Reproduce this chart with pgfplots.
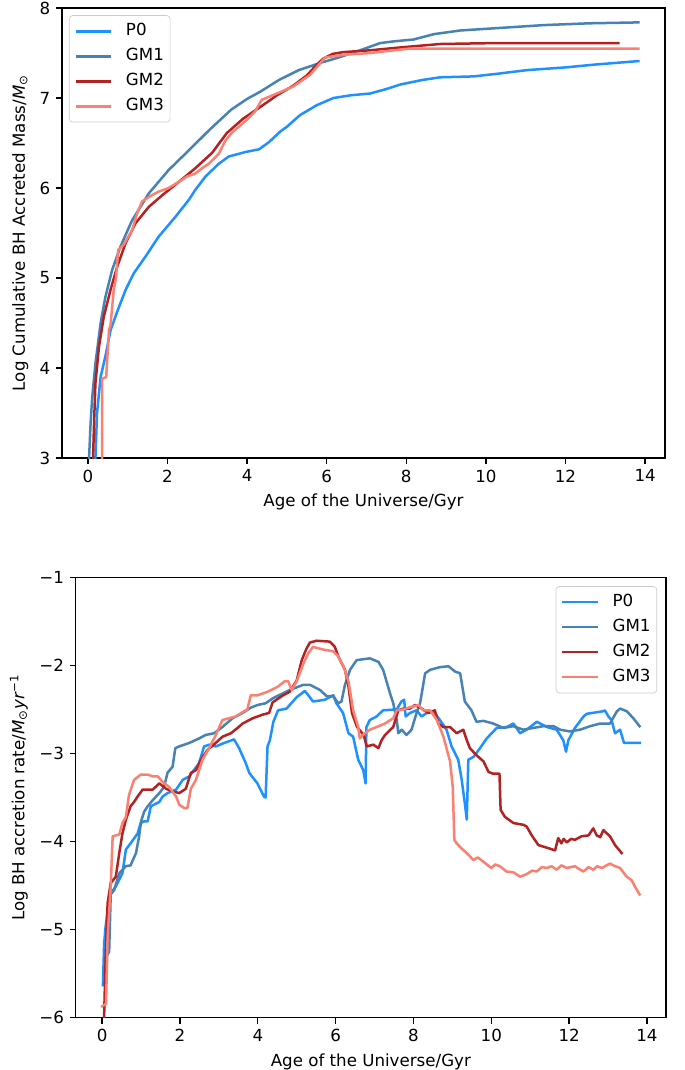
\documentclass[border=0pt]{standalone}
\usepackage{fontspec}
\setmainfont{DejaVu Sans}
\usepackage{pgfplots}
\pgfplotsset{compat=1.18}
\definecolor{cP}{HTML}{1E90FF}
\definecolor{cGa}{HTML}{4682B4}
\definecolor{cGb}{HTML}{B22222}
\definecolor{cGc}{HTML}{FA8072}
\pgfplotsset{
  mpl/.style={
    scale only axis,
    axis line style={line width=0.8pt},
    tick style={black, line width=0.8pt},
    major tick length=3.5pt,
    tick align=outside,
    tick pos=left,
    /pgf/number format/assume math mode=true,
    ticklabel style={font=\fontsize{10}{12}\selectfont},
    label style={font=\fontsize{10}{12}\selectfont},
    legend cell align=left,
    legend image code/.code={\draw[#1, line width=1.5pt, line cap=rect] (0pt,0pt) -- (20pt,0pt);},
    every axis plot/.append style={line width=1.5pt, line join=round, line cap=rect},
  },
  lstyle/.style={draw=black!20, rounded corners=2pt, fill=white, fill opacity=0.8, text opacity=1,
    inner xsep=3.75pt, inner ysep=4.6pt, row sep=5.3pt, column sep=8.75pt,
    nodes={inner sep=0pt, text height=7.3pt, text depth=2.4pt},
    font=\fontsize{10}{12}\selectfont},
}
\begin{document}
\begin{tikzpicture}
\path[use as bounding box] (0,0) rectangle (411pt,-642pt);
\begin{axis}[mpl,
  at={(37.2pt,-274.8pt)}, anchor=south west,
  width=361.8pt, height=270pt,
  xmin=-0.65, xmax=14.5, ymin=3, ymax=8,
  xtick={0,2,...,14}, ytick={3,4,...,8},
  xlabel={Age of the Universe/Gyr},
  ylabel={Log Cumulative BH Accreted Mass/\textit{M}\textsubscript{⊙}},
  legend style={lstyle, at={(0.0116,0.984)}, anchor=north west},
]
\addplot[cP] coordinates {(0.19,3.0) (0.23,3.5) (0.32,3.9) (0.44,4.13) (0.57,4.42) (0.74,4.63) (0.95,4.87) (1.15,5.05) (1.45,5.24) (1.78,5.46) (2.20,5.68) (2.54,5.87) (2.70,5.98) (2.96,6.13) (3.29,6.27) (3.54,6.35) (3.96,6.40) (4.30,6.43) (4.55,6.51) (4.84,6.63) (5.0,6.68) (5.33,6.81) (5.75,6.92) (6.17,7.0) (6.6,7.03) (7.09,7.05) (7.5,7.1) (7.85,7.15) (8.4,7.2) (8.85,7.23) (9.69,7.24) (10.3,7.27) (11.03,7.31) (12.0,7.34) (12.7,7.37) (13.83,7.41)};
\addlegendentry{P0}
\addplot[cGa] coordinates {(0.03,3.0) (0.07,3.4) (0.11,3.68) (0.19,4.05) (0.32,4.50) (0.44,4.79) (0.61,5.09) (0.82,5.35) (1.11,5.64) (1.53,5.94) (2.03,6.20) (2.54,6.42) (3.04,6.64) (3.6,6.87) (4.0,6.99) (4.33,7.07) (4.8,7.2) (5.3,7.31) (5.84,7.39) (6.3,7.45) (6.84,7.53) (7.34,7.61) (7.7,7.63) (8.18,7.65) (8.7,7.71) (9.35,7.75) (10.4,7.78) (11.45,7.81) (12.6,7.83) (13.83,7.84)};
\addlegendentry{GM1}
\addplot[cGb] coordinates {(0.13,3.0) (0.16,3.45) (0.19,3.83) (0.28,4.24) (0.40,4.57) (0.57,4.87) (0.74,5.13) (0.95,5.39) (1.2,5.61) (1.53,5.79) (1.87,5.92) (2.29,6.07) (2.70,6.22) (3.12,6.39) (3.49,6.61) (3.9,6.77) (4.33,6.9) (4.75,7.03) (5.17,7.14) (5.5,7.25) (5.75,7.37) (5.92,7.44) (6.15,7.49) (6.42,7.51) (7.09,7.53) (7.8,7.56) (8.85,7.6) (10.19,7.61) (13.33,7.61)};
\addlegendentry{GM2}
\addplot[cGc] coordinates {(0.36,3.0) (0.36,3.88) (0.46,3.90) (0.53,4.42) (0.57,4.48) (0.65,4.87) (0.71,5.01) (0.76,5.31) (0.90,5.37) (1.11,5.53) (1.24,5.72) (1.36,5.85) (1.57,5.91) (1.78,5.96) (2.03,6.0) (2.29,6.07) (2.50,6.13) (2.70,6.16) (2.87,6.22) (3.04,6.27) (3.29,6.38) (3.38,6.46) (3.46,6.53) (3.63,6.62) (4.0,6.76) (4.2,6.85) (4.37,6.98) (4.8,7.06) (5.17,7.13) (5.59,7.26) (5.96,7.45) (6.42,7.48) (7.09,7.5) (8.1,7.55) (13.83,7.55)};
\addlegendentry{GM3}
\end{axis}
\begin{axis}[mpl,
  at={(45.42pt,-610.62pt)}, anchor=south west,
  width=354.18pt, height=264.24pt,
  xmin=-0.68, xmax=14.49, ymin=-6, ymax=-1,
  xtick={0,2,...,14}, ytick={-6,-5,...,-1},
  yticklabels={−6,−5,−4,−3,−2,−1},
  xlabel={Age of the Universe/Gyr},
  ylabel={Log BH accretion rate/\textit{M}\textsubscript{⊙}\textit{yr}\textsuperscript{−1}},
  legend style={lstyle, at={(0.985,0.98)}, anchor=north east},
]
\addplot[cP] coordinates {(0.02,-5.63) (0.05,-5.17) (0.08,-5.0) (0.15,-4.75) (0.22,-4.59) (0.35,-4.51) (0.52,-4.36) (0.61,-4.09) (0.73,-4.02) (0.91,-3.91) (0.99,-3.79) (1.08,-3.77) (1.17,-3.77) (1.25,-3.60) (1.47,-3.55) (1.55,-3.49) (1.68,-3.45) (1.90,-3.41) (2.07,-3.30) (2.24,-3.26) (2.49,-3.11) (2.62,-2.92) (2.75,-2.90) (2.92,-2.92) (3.14,-2.88) (3.39,-2.84) (3.52,-2.94) (3.69,-3.11) (3.78,-3.22) (3.99,-3.34) (4.16,-3.49) (4.2,-3.5) (4.25,-2.92) (4.31,-2.85) (4.40,-2.64) (4.52,-2.51) (4.74,-2.49) (5.0,-2.36) (5.21,-2.29) (5.30,-2.34) (5.42,-2.41) (5.72,-2.39) (5.94,-2.34) (6.02,-2.43) (6.19,-2.54) (6.33,-2.77) (6.45,-2.81) (6.58,-3.07) (6.71,-3.19) (6.77,-3.34) (6.79,-2.70) (6.88,-2.62) (7.05,-2.58) (7.22,-2.51) (7.57,-2.50) (7.69,-2.41) (7.76,-2.39) (7.80,-2.58) (7.91,-2.54) (8.08,-2.51) (8.21,-2.58) (8.34,-2.54) (8.51,-2.52) (8.68,-2.62) (8.85,-2.73) (8.98,-2.92) (9.15,-3.07) (9.24,-3.30) (9.33,-3.60) (9.37,-3.75) (9.41,-3.07) (9.54,-3.04) (9.71,-2.94) (9.88,-2.83) (10.14,-2.71) (10.39,-2.70) (10.57,-2.66) (10.74,-2.77) (10.91,-2.73) (11.17,-2.64) (11.43,-2.70) (11.68,-2.73) (11.85,-2.85) (11.92,-2.98) (11.98,-2.85) (12.15,-2.71) (12.37,-2.58) (12.45,-2.55) (12.88,-2.52) (12.92,-2.51) (13.01,-2.58) (13.09,-2.62) (13.18,-2.77) (13.31,-2.73) (13.41,-2.88) (13.82,-2.88)};
\addlegendentry{P0}
\addplot[cGa] coordinates {(0.08,-5.33) (0.18,-5.25) (0.22,-4.6) (0.31,-4.55) (0.44,-4.36) (0.61,-4.28) (0.73,-4.27) (0.87,-4.13) (0.95,-3.94) (1.0,-3.77) (1.08,-3.66) (1.17,-3.60) (1.30,-3.53) (1.47,-3.45) (1.59,-3.38) (1.68,-3.22) (1.81,-3.15) (1.88,-2.94) (1.98,-2.92) (2.24,-2.88) (2.49,-2.83) (2.66,-2.79) (2.88,-2.77) (3.09,-2.70) (3.35,-2.60) (3.61,-2.54) (3.82,-2.48) (3.99,-2.45) (4.2,-2.43) (4.40,-2.37) (4.82,-2.28) (5.17,-2.22) (5.34,-2.22) (5.60,-2.28) (5.77,-2.35) (5.94,-2.35) (6.07,-2.43) (6.15,-2.41) (6.24,-2.22) (6.37,-2.05) (6.54,-1.94) (6.88,-1.92) (7.10,-1.96) (7.22,-2.05) (7.40,-2.32) (7.48,-2.43) (7.57,-2.62) (7.61,-2.77) (7.70,-2.73) (7.82,-2.79) (7.95,-2.73) (8.08,-2.54) (8.17,-2.43) (8.30,-2.09) (8.43,-2.05) (8.68,-2.02) (8.90,-2.01) (9.07,-2.07) (9.20,-2.09) (9.32,-2.41) (9.49,-2.51) (9.62,-2.64) (9.80,-2.63) (10.05,-2.66) (10.31,-2.71) (10.57,-2.69) (10.82,-2.73) (11.08,-2.71) (11.34,-2.69) (11.60,-2.69) (11.77,-2.73) (12.02,-2.75) (12.28,-2.73) (12.54,-2.69) (12.80,-2.66) (13.05,-2.66) (13.23,-2.52) (13.31,-2.49) (13.48,-2.52) (13.65,-2.60) (13.81,-2.69)};
\addlegendentry{GM1}
\addplot[cGb] coordinates {(0.05,-6.0) (0.08,-5.46) (0.14,-4.70) (0.22,-4.47) (0.35,-4.40) (0.44,-4.13) (0.52,-3.91) (0.61,-3.75) (0.73,-3.60) (0.82,-3.55) (0.91,-3.49) (1.04,-3.41) (1.30,-3.41) (1.47,-3.34) (1.64,-3.40) (1.81,-3.43) (1.98,-3.45) (2.15,-3.40) (2.28,-3.22) (2.41,-3.19) (2.54,-3.07) (2.71,-2.96) (2.92,-2.88) (3.09,-2.81) (3.31,-2.77) (3.48,-2.71) (3.61,-2.66) (3.87,-2.60) (4.12,-2.56) (4.29,-2.54) (4.38,-2.42) (4.48,-2.39) (4.65,-2.34) (4.82,-2.30) (5.0,-2.17) (5.13,-1.94) (5.25,-1.81) (5.34,-1.74) (5.51,-1.72) (5.85,-1.73) (5.98,-1.79) (6.07,-1.90) (6.24,-2.05) (6.33,-2.24) (6.42,-2.54) (6.55,-2.70) (6.72,-2.79) (6.80,-2.92) (6.97,-2.90) (7.10,-2.94) (7.18,-2.85) (7.27,-2.79) (7.48,-2.70) (7.61,-2.51) (7.74,-2.49) (7.91,-2.49) (8.04,-2.45) (8.21,-2.49) (8.38,-2.54) (8.55,-2.51) (8.64,-2.66) (8.77,-2.70) (8.94,-2.70) (9.11,-2.77) (9.28,-2.73) (9.37,-2.85) (9.45,-2.94) (9.62,-3.02) (9.80,-3.09) (9.93,-3.21) (10.05,-3.23) (10.21,-3.23) (10.24,-3.64) (10.35,-3.72) (10.57,-3.79) (10.83,-3.81) (10.91,-3.83) (11.04,-3.93) (11.21,-4.04) (11.43,-4.07) (11.64,-4.10) (11.72,-3.96) (11.80,-4.02) (11.86,-3.97) (11.94,-4.01) (12.05,-3.97) (12.15,-3.98) (12.32,-3.94) (12.50,-3.93) (12.62,-3.85) (12.71,-3.93) (12.80,-3.95) (12.88,-3.87) (13.05,-3.94) (13.18,-4.04) (13.35,-4.13)};
\addlegendentry{GM2}
\addplot[cGc] coordinates {(0.0,-5.87) (0.10,-5.84) (0.14,-5.08) (0.22,-4.51) (0.27,-3.94) (0.44,-3.92) (0.52,-3.79) (0.61,-3.72) (0.69,-3.47) (0.82,-3.30) (0.99,-3.24) (1.17,-3.24) (1.30,-3.26) (1.43,-3.26) (1.55,-3.32) (1.72,-3.38) (1.90,-3.49) (1.98,-3.58) (2.11,-3.62) (2.19,-3.62) (2.28,-3.40) (2.41,-3.30) (2.58,-3.07) (2.75,-2.94) (2.92,-2.79) (3.09,-2.62) (3.26,-2.60) (3.43,-2.58) (3.61,-2.53) (3.73,-2.50) (3.82,-2.34) (3.99,-2.34) (4.25,-2.30) (4.52,-2.24) (4.69,-2.18) (4.78,-2.18) (4.87,-2.28) (5.0,-2.18) (5.17,-1.98) (5.30,-1.86) (5.42,-1.79) (5.68,-1.82) (5.94,-1.84) (6.07,-1.90) (6.20,-2.01) (6.33,-2.18) (6.45,-2.51) (6.58,-2.70) (6.62,-2.83) (6.75,-2.77) (6.88,-2.73) (7.05,-2.70) (7.27,-2.66) (7.48,-2.60) (7.57,-2.51) (7.74,-2.50) (7.95,-2.47) (8.13,-2.45) (8.25,-2.51) (8.43,-2.51) (8.60,-2.62) (8.77,-2.81) (8.94,-3.09) (9.01,-3.38) (9.05,-3.98) (9.11,-4.02) (9.24,-4.08) (9.37,-4.13) (9.54,-4.21) (9.65,-4.18) (9.80,-4.23) (10.0,-4.30) (10.10,-4.26) (10.22,-4.28) (10.39,-4.34) (10.57,-4.35) (10.74,-4.40) (10.91,-4.37) (11.05,-4.33) (11.17,-4.34) (11.30,-4.29) (11.43,-4.30) (11.55,-4.28) (11.68,-4.32) (11.80,-4.27) (11.94,-4.30) (12.15,-4.28) (12.25,-4.31) (12.37,-4.34) (12.50,-4.29) (12.62,-4.32) (12.72,-4.28) (12.84,-4.30) (13.05,-4.25) (13.18,-4.28) (13.31,-4.30) (13.48,-4.40) (13.61,-4.44) (13.69,-4.51) (13.81,-4.60)};
\addlegendentry{GM3}
\end{axis}
\end{tikzpicture}
\end{document}
